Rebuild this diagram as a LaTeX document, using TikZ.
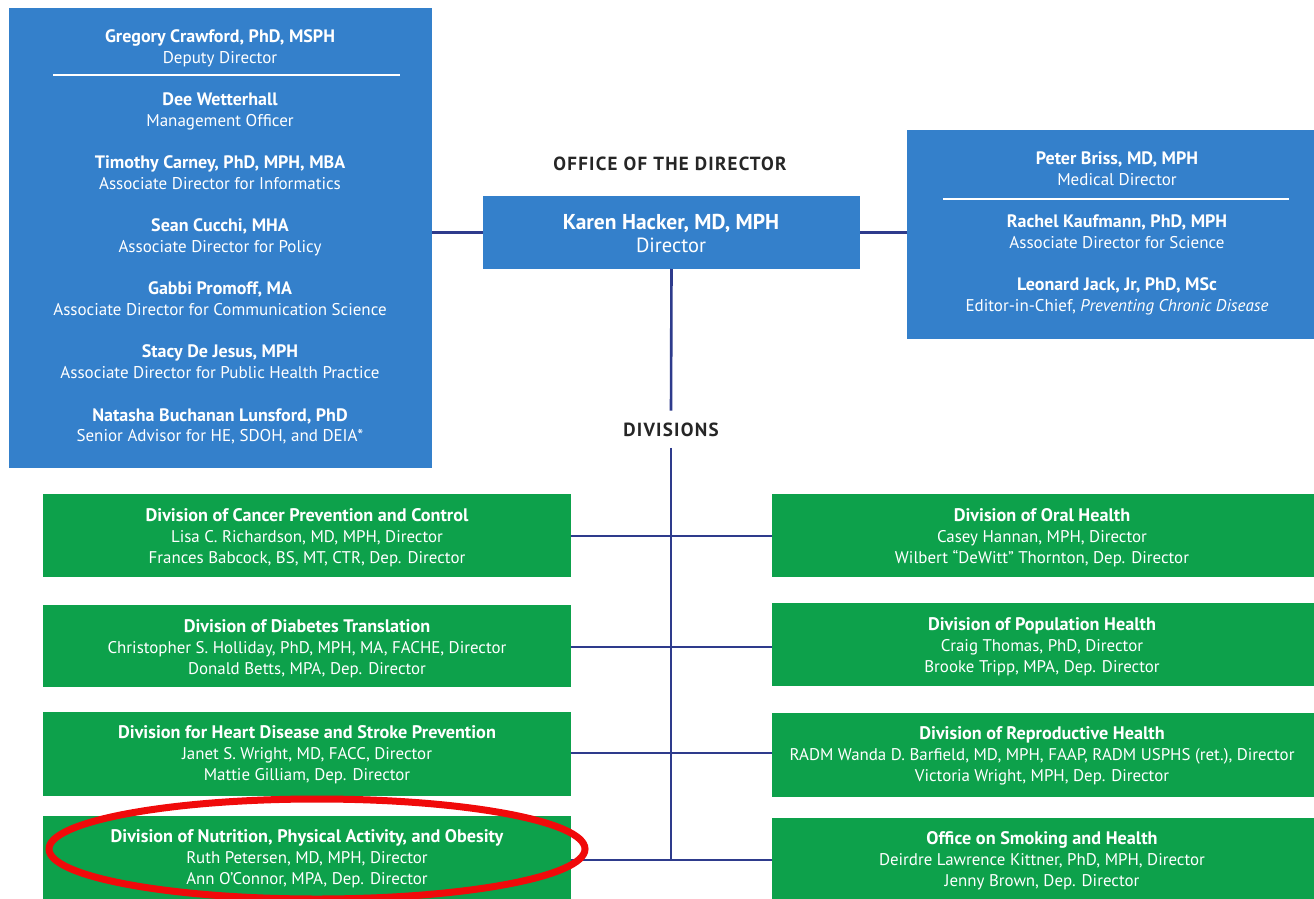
\documentclass[tikz,border=0pt]{standalone}
\usepackage{fontspec}
\usetikzlibrary{shapes.geometric}
\setmainfont{PT Sans}
\newfontfamily\headfont[LetterSpace=6.5]{PT Sans}
\definecolor{cdcblue}{HTML}{3480CB}
\definecolor{cdcgreen}{HTML}{0DA14B}
\definecolor{linecol}{HTML}{2E3B8C}
\definecolor{ringred}{HTML}{F00A0A}
\tikzset{
  bluebox/.style={fill=cdcblue, draw=none, inner sep=0pt, outer sep=0pt, anchor=north west},
  greenbox/.style={fill=cdcgreen, draw=none, inner sep=0pt, outer sep=0pt, anchor=north west, minimum width=528pt},
  greenboxr/.style={fill=cdcgreen, draw=none, inner sep=0pt, outer sep=0pt, anchor=north west, minimum width=542pt},
  nm/.style={text=white, anchor=base, inner sep=0pt, font=\fontsize{18}{20}\selectfont\bfseries},
  rl/.style={text=white, anchor=base, inner sep=0pt, font=\fontsize{17}{20}\selectfont},
  gnm/.style={text=white, anchor=base, inner sep=0pt, font=\fontsize{18.2}{20}\selectfont\bfseries},
  grl/.style={text=white, anchor=base, inner sep=0pt, font=\fontsize{16.9}{20}\selectfont},
  head/.style={text=black!85, anchor=base, font=\headfont\fontsize{19}{21}\selectfont\bfseries},
  conn/.style={draw=linecol, line width=2.6pt},
  sepline/.style={draw=white, line width=1.6pt}
}
\begin{document}
\begin{tikzpicture}[x=1pt,y=-1pt]
\useasboundingbox (0,0) rectangle (1314,899);
\fill[white] (0,0) rectangle (1314,899);

% ---------- left office box ----------
\node[bluebox, minimum width=423pt, minimum height=460pt] (dep) at (9,8) {};
\node[nm] (d1) at (220,43) {Gregory Crawford, PhD, MSPH};
\node[rl] (d1r) at (220,63.5) {Deputy Director};
\coordinate (s1a) at (53,75);
\coordinate (s1b) at (400,75);
\draw[sepline] (s1a) -- (s1b);
\node[nm] (d2) at (220,105) {Dee Wetterhall};
\node[rl] (d2r) at (220,126) {Management Officer};
\node[nm] (d3) at (220,168) {Timothy Carney, PhD, MPH, MBA};
\node[rl] (d3r) at (220,189) {Associate Director for Informatics};
\node[nm] (d4) at (220,231) {Sean Cucchi, MHA};
\node[rl] (d4r) at (220,252) {Associate Director for Policy};
\node[nm] (d5) at (220,294) {Gabbi Promoff, MA};
\node[rl] (d5r) at (220,315) {Associate Director for Communication Science};
\node[nm] (d6) at (220,357) {Stacy De Jesus, MPH};
\node[rl] (d6r) at (220,378) {Associate Director for Public Health Practice};
\node[nm] (d7) at (220,421) {Natasha Buchanan Lunsford, PhD};
\node[rl] (d7r) at (220,441) {Senior Advisor for HE, SDOH, and DEIA*};

% ---------- director ----------
\node[head] (odlabel) at (670,170) {OFFICE OF THE DIRECTOR};
\node[bluebox, minimum width=377pt, minimum height=73pt] (dir) at (483,196) {};
\node[text=white, anchor=base, inner sep=0pt, font=\fontsize{21.5}{23}\selectfont\bfseries] (dirn) at (671,229) {Karen Hacker, MD, MPH};
\node[text=white, anchor=base, inner sep=0pt, font=\fontsize{20.5}{23}\selectfont] (dirr) at (671,252) {Director};

% ---------- right office box ----------
\node[bluebox, minimum width=410pt, minimum height=209pt] (med) at (907,130) {};
\node[nm] (m1) at (1117,164) {Peter Briss, MD, MPH};
\node[rl] (m1r) at (1117,185) {Medical Director};
\coordinate (s2a) at (943,199);
\coordinate (s2b) at (1289,199);
\draw[sepline] (s2a) -- (s2b);
\node[nm] (m2) at (1117,227) {Rachel Kaufmann, PhD, MPH};
\node[rl] (m2r) at (1117,248) {Associate Director for Science};
\node[nm] (m3) at (1117,290) {Leonard Jack, Jr, PhD, MSc};
\node[rl] (m3r) at (1117,311) {Editor-in-Chief, \textit{Preventing Chronic Disease}};

% ---------- divisions label ----------
\node[head, inner ysep=11.5pt] (divlabel) at (671,436) {DIVISIONS};

% ---------- left divisions ----------
\node[greenbox, minimum height=83pt] (c1) at (43,494) {};
\node[gnm] (c1a) at (307,521) {Division of Cancer Prevention and Control};
\node[grl] (c1b) at (307,542) {Lisa C. Richardson, MD, MPH, Director};
\node[grl] (c1c) at (307,563) {Frances Babcock, BS, MT, CTR, Dep. Director};

\node[greenbox, minimum height=82pt] (c2) at (43,605) {};
\node[gnm] (c2a) at (307,632) {Division of Diabetes Translation};
\node[grl] (c2b) at (307,653) {Christopher S. Holliday, PhD, MPH, MA, FACHE, Director};
\node[grl] (c2c) at (307,674) {Donald Betts, MPA, Dep. Director};

\node[greenbox, minimum height=84pt] (c3) at (43,712) {};
\node[gnm] (c3a) at (307,738) {Division for Heart Disease and Stroke Prevention};
\node[grl] (c3b) at (307,759) {Janet S. Wright, MD, FACC, Director};
\node[grl] (c3c) at (307,780) {Mattie Gilliam, Dep. Director};

\node[greenbox, minimum height=88pt] (c4) at (43,816) {};
\node[gnm] (c4a) at (307,842) {Division of Nutrition, Physical Activity, and Obesity};
\node[grl] (c4b) at (307,863) {Ruth Petersen, MD, MPH, Director};
\node[grl] (c4c) at (307,884) {Ann O’Connor, MPA, Dep. Director};

% ---------- right divisions ----------
\node[greenboxr, minimum height=83pt] (o1) at (772,494) {};
\node[gnm] (o1a) at (1042,521) {Division of Oral Health};
\node[grl] (o1b) at (1042,542) {Casey Hannan, MPH, Director};
\node[grl] (o1c) at (1042,563) {Wilbert “DeWitt” Thornton, Dep. Director};

\node[greenboxr, minimum height=83pt] (o2) at (772,603) {};
\node[gnm] (o2a) at (1042,630) {Division of Population Health};
\node[grl] (o2b) at (1042,651) {Craig Thomas, PhD, Director};
\node[grl] (o2c) at (1042,672) {Brooke Tripp, MPA, Dep. Director};

\node[greenboxr, minimum height=84pt] (o3) at (772,713) {};
\node[gnm] (o3a) at (1042,739) {Division of Reproductive Health};
\node[grl] (o3b) at (1042,760) {RADM Wanda D. Barfield, MD, MPH, FAAP, RADM USPHS (ret.), Director};
\node[grl] (o3c) at (1042,781) {Victoria Wright, MPH, Dep. Director};

\node[greenboxr, minimum height=84pt] (o4) at (772,818) {};
\node[gnm] (o4a) at (1042,844) {Office on Smoking and Health};
\node[grl] (o4b) at (1042,865) {Deirdre Lawrence Kittner, PhD, MPH, Director};
\node[grl] (o4c) at (1042,886) {Jenny Brown, Dep. Director};

% ---------- connectors ----------
\coordinate (j1) at (671,536);
\coordinate (j2) at (671,647);
\coordinate (j3) at (671,753);
\coordinate (spineend) at (671,860);
\draw[conn] (dep.east |- dir.west) -- (dir.west);
\draw[conn] (dir.east) -- (med.west |- dir.east);
\draw[conn] (dir.south) -- (divlabel.north);
\draw[conn] (divlabel.south) -- (spineend);
\draw[conn] (c1.east |- j1) -- (o1.west |- j1);
\draw[conn] (c2.east |- j2) -- (o2.west |- j2);
\draw[conn] (c3.east |- j3) -- (o3.west |- j3);
\draw[conn] (c4.east |- spineend) -- (o4.west |- spineend);

% ---------- red highlight ring ----------
\node[draw=ringred, line width=7pt, ellipse, inner sep=0pt, minimum width=536pt, minimum height=100pt] (ring) at (317,849) {};
\end{tikzpicture}
\end{document}
